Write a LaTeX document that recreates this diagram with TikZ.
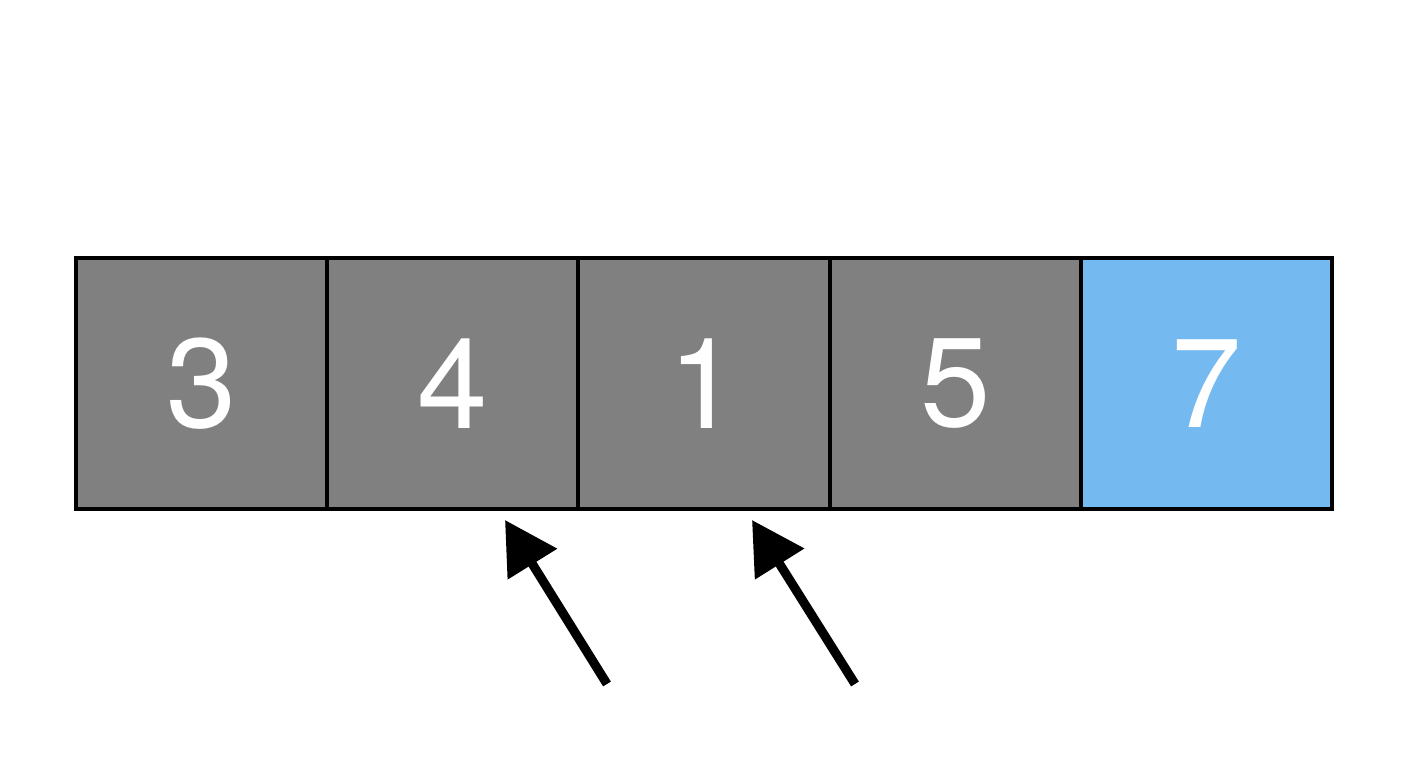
\documentclass[tikz,border=0pt]{standalone}
\usepackage{fontspec}
\setmainfont{TeX Gyre Heros}
\usetikzlibrary{arrows.meta,positioning}
\definecolor{cellgray}{HTML}{808080}
\definecolor{cellblue}{HTML}{74B9F0}
\begin{document}
\begin{tikzpicture}[cell/.style={draw=black,line width=1.1pt,fill=cellgray,minimum width=2.512cm,minimum height=2.51cm,outer sep=0pt,inner sep=0pt,text=white,font=\fontsize{36}{40}\selectfont},
pointer/.style={line width=2.6pt,-{Triangle[length=5.2mm,width=5.6mm]}}]
\useasboundingbox (0,0) rectangle (14.08,7.68);
\node[cell,anchor=south west] (c1) at (0.76,2.59) {3};
\node[cell,right=0pt of c1] (c2) {4};
\node[cell,right=0pt of c2] (c3) {1};
\node[cell,right=0pt of c3] (c4) {5};
\node[cell,fill=cellblue,right=0pt of c4] (c5) {7};
\coordinate (p1) at (5.05,2.48);
\coordinate (q1) at (6.07,0.84);
\coordinate (p2) at (7.52,2.48);
\coordinate (q2) at (8.55,0.84);
\draw[pointer] (q1)--(p1);
\draw[pointer] (q2)--(p2);
\end{tikzpicture}
\end{document}
